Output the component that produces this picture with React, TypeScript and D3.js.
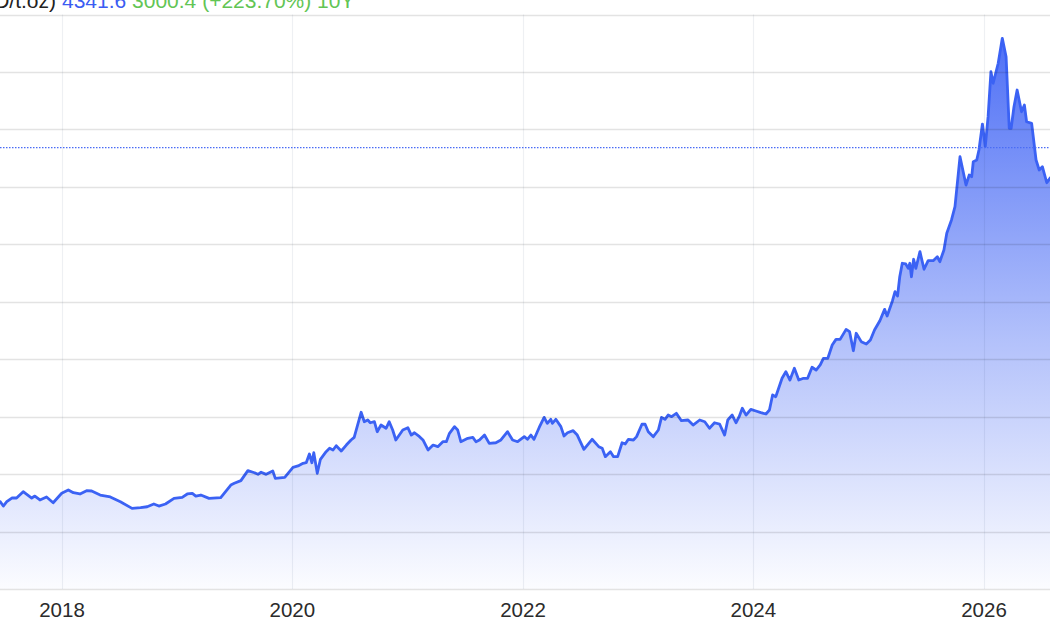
import React, { useEffect, useRef } from 'react';
import * as d3 from 'd3';

const W = 1050;
const H = 630;

const dates: string[] = [
  '2017-06-01','2017-06-19','2017-06-29','2017-07-10','2017-07-26','2017-08-10','2017-08-31','2017-09-27','2017-10-07','2017-10-23',
  '2017-11-13','2017-12-04','2017-12-31','2018-01-21','2018-02-06','2018-02-27','2018-03-20','2018-04-05','2018-05-02','2018-06-03',
  '2018-07-05','2018-08-11','2018-09-07','2018-09-28','2018-10-19','2018-11-04','2018-11-25','2018-12-22','2019-01-17','2019-02-02',
  '2019-02-18','2019-03-01','2019-03-17','2019-04-12','2019-05-19','2019-06-20','2019-07-01','2019-07-22','2019-08-13','2019-09-03',
  '2019-09-14','2019-09-24','2019-10-10','2019-10-31','2019-11-08','2019-12-08','2020-01-03','2020-01-19','2020-02-04','2020-02-14',
  '2020-02-24','2020-03-03','2020-03-09','2020-03-20','2020-03-30','2020-04-17','2020-04-28','2020-05-09','2020-05-19','2020-06-04',
  '2020-06-20','2020-07-05','2020-07-15','2020-08-06','2020-08-16','2020-08-27','2020-09-04','2020-09-17','2020-09-26','2020-10-08',
  '2020-10-24','2020-11-03','2020-11-14','2020-11-24','2020-12-16','2021-01-01','2021-01-12','2021-01-22','2021-02-07','2021-02-18',
  '2021-03-06','2021-03-22','2021-04-06','2021-04-22','2021-05-03','2021-05-13','2021-05-29','2021-06-08','2021-06-18','2021-07-10',
  '2021-07-26','2021-08-05','2021-08-16','2021-09-01','2021-09-16','2021-10-07','2021-10-23','2021-11-13','2021-11-29','2021-12-15',
  '2022-01-05','2022-01-15','2022-01-26','2022-02-05','2022-02-21','2022-03-09','2022-03-19','2022-03-30','2022-04-04','2022-04-15',
  '2022-05-01','2022-05-11','2022-05-22','2022-06-09','2022-06-22','2022-07-13','2022-08-08','2022-08-29','2022-09-09','2022-09-19',
  '2022-10-05','2022-10-15','2022-10-28','2022-11-11','2022-11-21','2022-12-01','2022-12-17','2022-12-27','2023-01-13','2023-01-23',
  '2023-02-02','2023-02-18','2023-03-06','2023-03-16','2023-03-27','2023-04-06','2023-04-17','2023-05-02','2023-05-18','2023-06-08',
  '2023-06-24','2023-07-15','2023-07-31','2023-08-15','2023-08-31','2023-09-16','2023-10-02','2023-10-12','2023-10-26','2023-11-07',
  '2023-11-17','2023-11-27','2023-12-09','2023-12-24','2024-01-09','2024-01-25','2024-02-10','2024-02-21','2024-03-02','2024-03-12',
  '2024-04-01','2024-04-13','2024-04-26','2024-05-10','2024-05-24','2024-06-08','2024-06-21','2024-07-05','2024-07-18','2024-07-31',
  '2024-08-10','2024-08-24','2024-09-07','2024-09-19','2024-10-02','2024-10-21','2024-11-01','2024-11-13','2024-11-22','2024-12-08',
  '2024-12-24','2025-01-06','2025-01-19','2025-02-05','2025-02-20','2025-02-28','2025-03-17','2025-03-25','2025-04-02','2025-04-09',
  '2025-04-17','2025-04-28','2025-05-06','2025-05-11','2025-05-16','2025-05-23','2025-05-30','2025-06-12','2025-06-25','2025-07-08',
  '2025-07-24','2025-08-06','2025-08-14','2025-08-27','2025-09-05','2025-09-20','2025-10-01','2025-10-17','2025-11-05','2025-11-15',
  '2025-11-23','2025-11-28','2025-12-09','2025-12-16','2025-12-27','2026-01-05','2026-01-14','2026-01-23','2026-01-30','2026-02-15',
  '2026-02-28','2026-03-12','2026-03-22','2026-03-28','2026-04-06','2026-04-16','2026-04-30','2026-05-09','2026-05-16','2026-06-01',
  '2026-06-15','2026-06-25','2026-07-05','2026-07-19','2026-07-29','2026-08-10',
];

const prices: number[] = [
  1270,1260,1222,1260,1292,1292,1347,1292,1309,1275,
  1301,1251,1333,1362,1338,1327,1356,1353,1318,1301,
  1260,1202,1208,1216,1240,1222,1240,1289,1298,1327,
  1333,1309,1318,1289,1295,1405,1420,1443,1530,1512,
  1498,1516,1498,1527,1463,1472,1559,1571,1594,1599,
  1675,1599,1686,1507,1629,1695,1725,1710,1747,1701,
  1753,1797,1820,2038,1956,1971,1947,1956,1869,1927,
  1899,1956,1884,1797,1884,1904,1840,1860,1826,1797,
  1710,1753,1739,1782,1782,1855,1913,1884,1782,1812,
  1820,1782,1797,1840,1768,1773,1797,1869,1797,1782,
  1826,1803,1840,1803,1904,1994,1942,1977,1942,1977,
  1913,1832,1860,1878,1840,1716,1803,1739,1725,1652,
  1695,1652,1652,1773,1762,1803,1797,1826,1934,1934,
  1869,1826,1884,1994,1977,2014,2000,2029,1965,1971,
  1927,1971,1956,1899,1947,1936,1840,1971,2014,1947,
  2000,2073,2014,2064,2049,2035,2023,2058,2189,2174,
  2334,2391,2319,2421,2319,2334,2334,2430,2406,2450,
  2508,2508,2624,2673,2673,2760,2740,2574,2726,2653,
  2632,2667,2754,2835,2934,2876,3009,3088,3050,3218,
  3335,3329,3291,3335,3218,3370,3291,3436,3283,3358,
  3358,3392,3349,3451,3596,3712,3828,4263,4016,4103,
  4089,4219,4234,4321,4547,4350,4611,5003,4902,5076,
  5293,5133,4510,4510,4698,4843,4654,4713,4567,4553,
  4234,4147,4176,4036,4075,4110,
];

const yearTicks: number[] = [2018, 2020, 2022, 2024, 2026];
const gridValues: number[] = [500, 1000, 1500, 2000, 2500, 3000, 3500, 4000, 4500, 5000, 5500];
const lastPrice = 4341.6;
const headerUnit = 'Gold (USD/t.oz)';
const headerPrice = '4341.6';
const headerChange = '3000.4 (+223.70%) 10Y';

const FONT = '"Liberation Sans", Arial, Helvetica, sans-serif';

export default function App() {
  const ref = useRef<SVGSVGElement>(null);

  useEffect(() => {
    document.body.style.margin = '0';
    const svg = d3.select(ref.current);
    svg.selectAll('*').remove();

    const parse = d3.timeParse('%Y-%m-%d');
    const data = dates.map((d, i) => ({ date: parse(d) as Date, value: prices[i] }));

    const x = d3.scaleTime()
      .domain([new Date(2018, 0, 1), new Date(2026, 0, 1)])
      .range([62, 984]);
    const y = d3.scaleLinear().domain([500, 5000]).range([589, 72]);

    const defs = svg.append('defs');
    defs.append('clipPath').attr('id', 'plotClip')
      .append('rect').attr('x', 0).attr('y', 0).attr('width', W).attr('height', y(500));
    const grad = defs.append('linearGradient').attr('id', 'areaGrad')
      .attr('gradientUnits', 'userSpaceOnUse')
      .attr('x1', 0).attr('x2', 0).attr('y1', y(5300)).attr('y2', y(500));
    grad.append('stop').attr('offset', '0%').attr('stop-color', '#4a6cf5').attr('stop-opacity', 0.97);
    grad.append('stop').attr('offset', '55%').attr('stop-color', '#4a6cf5').attr('stop-opacity', 0.42);
    grad.append('stop').attr('offset', '100%').attr('stop-color', '#4a6cf5').attr('stop-opacity', 0.02);

    svg.append('rect').attr('width', W).attr('height', H).attr('fill', '#ffffff');

    const plot = svg.append('g').attr('clip-path', 'url(#plotClip)');

    const area = d3.area<{ date: Date; value: number }>()
      .x(d => x(d.date)).y0(y(500)).y1(d => y(d.value));
    plot.append('path').datum(data).attr('d', area).attr('fill', 'url(#areaGrad)');

    // horizontal grid
    svg.append('g').selectAll('line').data(gridValues).join('line')
      .attr('x1', 0).attr('x2', W)
      .attr('y1', d => Math.round(y(d)) + 0.5).attr('y2', d => Math.round(y(d)) + 0.5)
      .attr('stroke', 'rgba(0,0,0,0.11)').attr('stroke-width', 1.3);

    // vertical grid
    svg.append('g').selectAll('line').data(yearTicks).join('line')
      .attr('x1', d => Math.round(x(new Date(d, 0, 1))) + 0.5)
      .attr('x2', d => Math.round(x(new Date(d, 0, 1))) + 0.5)
      .attr('y1', y(5500)).attr('y2', y(500))
      .attr('stroke', 'rgba(20,40,90,0.07)').attr('stroke-width', 1.2);

    const line = d3.line<{ date: Date; value: number }>()
      .x(d => x(d.date)).y(d => y(d.value));
    plot.append('path').datum(data).attr('d', line)
      .attr('fill', 'none').attr('stroke', '#3b62f4').attr('stroke-width', 2.8)
      .attr('stroke-linejoin', 'round');

    // last price dotted line
    svg.append('line')
      .attr('x1', 0).attr('x2', W)
      .attr('y1', y(lastPrice)).attr('y2', y(lastPrice))
      .attr('stroke', '#4a6cf5').attr('stroke-width', 1.2)
      .attr('stroke-dasharray', '1.5,1.5');

    // header
    svg.append('rect').attr('x', 0).attr('y', 0).attr('width', 367).attr('height', 13).attr('fill', '#ffffff');
    svg.append('text')
      .attr('x', 56).attr('y', 8).attr('text-anchor', 'end')
      .attr('font-family', FONT).attr('font-size', 21).attr('fill', '#222')
      .text(headerUnit);
    const ht = svg.append('text')
      .attr('x', 62).attr('y', 8)
      .attr('font-family', FONT).attr('font-size', 21);
    ht.append('tspan').attr('fill', '#3b5cf2').text(headerPrice);
    ht.append('tspan').attr('fill', '#62c554').text(' ' + headerChange);

    // x labels
    svg.append('g').selectAll('text').data(yearTicks).join('text')
      .attr('x', d => x(new Date(d, 0, 1)))
      .attr('y', 617)
      .attr('text-anchor', 'middle')
      .attr('font-family', FONT).attr('font-size', 20.5).attr('fill', '#2b2b2b')
      .text(d => String(d));
  }, []);

  return <svg ref={ref} width={W} height={H} style={{ display: 'block' }} />;
}
